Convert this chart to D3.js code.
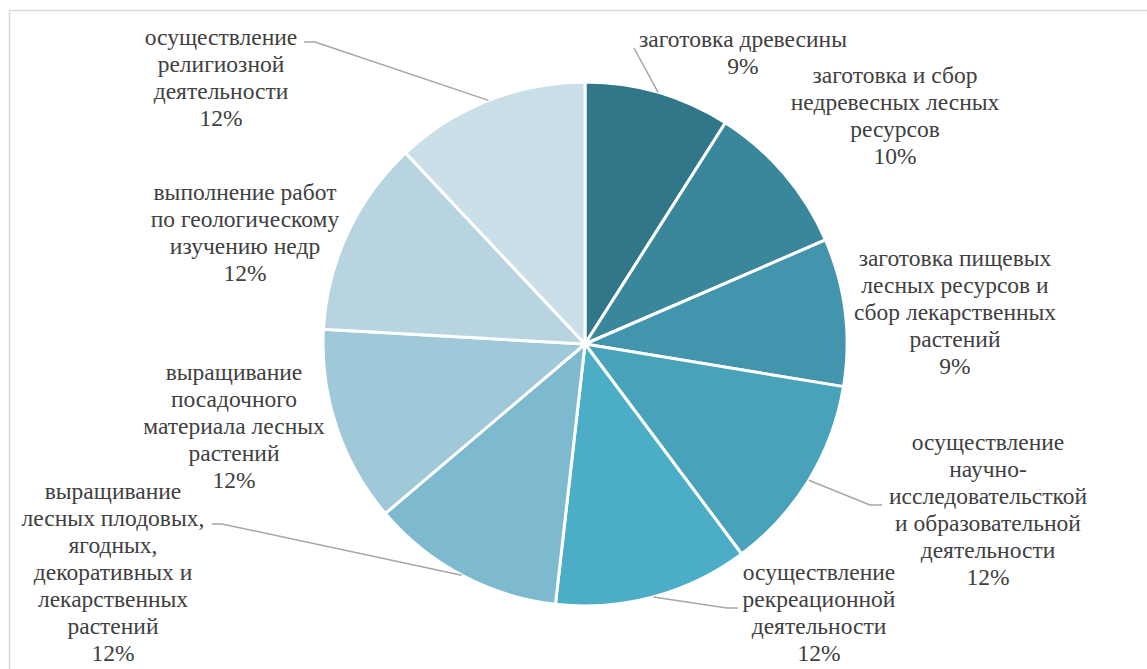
<!DOCTYPE html>
<html>

<head>
    <meta charset="utf-8">
    <title>Виды использования лесов</title>
    <script src="https://cdn.jsdelivr.net/npm/d3@7"></script>
    <style>
        body { margin: 0; background: #fff; }
    </style>
</head>

<body>
    <div id="chart"></div>
    <script>
        // Категории (строки подписи разбиты так же, как на исходной диаграмме)
        const categories = [
            ["заготовка древесины"],
            ["заготовка и сбор", "недревесных лесных", "ресурсов"],
            ["заготовка пищевых", "лесных ресурсов и", "сбор лекарственных", "растений"],
            ["осуществление", "научно-", "исследовательсткой", "и образовательной", "деятельности"],
            ["осуществление", "рекреационной", "деятельности"],
            ["выращивание", "лесных плодовых,", "ягодных,", "декоративных и", "лекарственных", "растений"],
            ["выращивание", "посадочного", "материала лесных", "растений"],
            ["выполнение работ", "по геологическому", "изучению недр"],
            ["осуществление", "религиозной", "деятельности"]
        ];
        // Доли, %
        const values = [9.0, 9.5, 9.1, 12.2, 12.0, 12.0, 12.1, 12.1, 12.0];
        const percentLabels = ["9%", "10%", "9%", "12%", "12%", "12%", "12%", "12%", "12%"];

        const colors = ["#327789", "#3a879b", "#4295ac", "#48a3ba", "#4badc6",
            "#7db9cf", "#9fc8d8", "#b7d4e0", "#cadfe8"];

        // Размещение подписей: центр по x, базовая линия первой строки, точка выноски (если есть)
        const labelLayout = [
            { x: 743, y: 47, leader: [634, 48] },
            { x: 895, y: 83 },
            { x: 955, y: 266 },
            { x: 988, y: 450, leader: [870, 505, 882, 505] },
            { x: 819, y: 580, leader: [727, 608, 738, 608] },
            { x: 113, y: 499, leader: [222, 524, 212, 524] },
            { x: 234, y: 380 },
            { x: 245, y: 200 },
            { x: 221, y: 45, leader: [315, 42, 304, 42] }
        ];

        const W = 1147, H = 669;
        const cx = 585, cy = 344, r = 262;
        const lineH = 27;

        const svg = d3.select("#chart").append("svg")
            .attr("width", W)
            .attr("height", H);

        // рамка области диаграммы
        svg.append("rect")
            .attr("x", 9.5).attr("y", 10.5)
            .attr("width", W + 10).attr("height", H + 10)
            .attr("fill", "none")
            .attr("stroke", "#d9d9d9")
            .attr("stroke-width", 1.5);

        const pie = d3.pie().sort(null).value(d => d);
        const arcs = pie(values);
        const arc = d3.arc().innerRadius(0).outerRadius(r);

        const g = svg.append("g").attr("transform", `translate(${cx},${cy})`);

        g.selectAll("path")
            .data(arcs)
            .enter()
            .append("path")
            .attr("d", arc)
            .attr("fill", (d, i) => colors[i])
            .attr("stroke", "#fff")
            .attr("stroke-width", 3)
            .attr("stroke-linejoin", "round");

        // выноски
        arcs.forEach((a, i) => {
            const lay = labelLayout[i];
            if (!lay.leader) return;
            const mid = (a.startAngle + a.endAngle) / 2;
            const pts = [[cx + r * Math.sin(mid), cy - r * Math.cos(mid)]];
            for (let k = 0; k < lay.leader.length; k += 2) pts.push([lay.leader[k], lay.leader[k + 1]]);
            svg.append("path")
                .attr("d", d3.line()(pts))
                .attr("fill", "none")
                .attr("stroke", "#a6a6a6")
                .attr("stroke-width", 1.5);
        });

        // подписи данных - каждая строка отдельным text
        categories.forEach((lines, i) => {
            const lay = labelLayout[i];
            lines.concat([percentLabels[i]]).forEach((s, k) => {
                svg.append("text")
                    .attr("x", lay.x)
                    .attr("y", lay.y + k * lineH)
                    .attr("text-anchor", "middle")
                    .attr("font-size", 23.5)
                    .style("font-family", '"Liberation Serif"')
                    .attr("fill", "#404040")
                    .text(s);
            });
        });
    </script>
</body>

</html>
